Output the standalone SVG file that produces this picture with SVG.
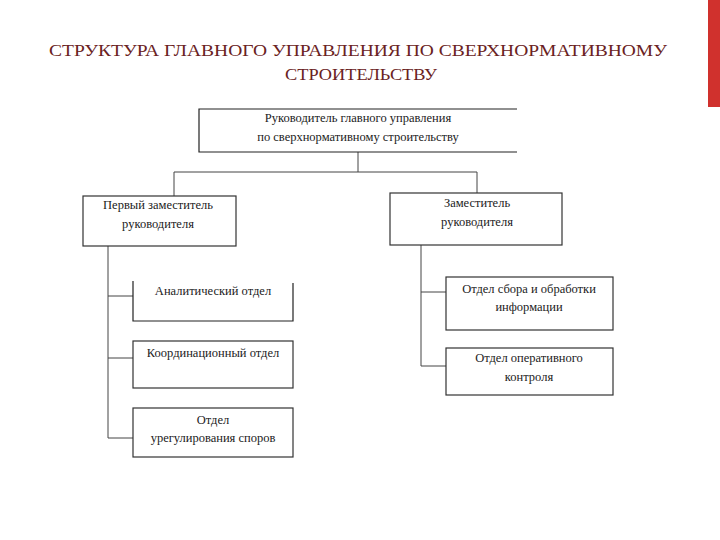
<svg xmlns="http://www.w3.org/2000/svg" width="720" height="540" viewBox="0 0 720 540">
<style>
.title{font-family:"Liberation Serif","Times New Roman",serif;font-size:17px;fill:#6a2222;text-anchor:middle}
.t{font-family:"Liberation Serif","DejaVu Serif",serif;font-size:12.5px;fill:#222;text-anchor:middle}
.box{fill:#fff;stroke:#333;stroke-width:1.2}
.edge{fill:none;stroke:#444;stroke-width:1}
.ln{fill:none;stroke:#222;stroke-width:1.2}
</style>
<rect x="0" y="0" width="720" height="540" fill="#fff"/>
<rect x="708" y="0" width="12" height="107" fill="#d0312d"/>
<text class="title" x="358" y="56" textLength="618" lengthAdjust="spacingAndGlyphs">СТРУКТУРА ГЛАВНОГО УПРАВЛЕНИЯ ПО СВЕРХНОРМАТИВНОМУ</text>
<text class="title" x="361" y="80" textLength="152" lengthAdjust="spacingAndGlyphs">СТРОИТЕЛЬСТВУ</text>

<g id="connectors">
<path class="edge" d="M358 152 V172 M174 172 H477 M174 172 V196 M477 172 V193"/>
<path class="edge" d="M108 246 V438 M108 296 H133 M108 358 H133 M108 438 H133"/>
<path class="edge" d="M421 245 V366 M421 292 H446 M421 366 H446"/>
</g>

<g id="head">
<rect x="199" y="109" width="318" height="43" fill="#fff"/>
<path class="ln" d="M517 109 H199 V152 H517"/>
<text class="t" x="358" y="122">Руководитель главного управления</text>
<text class="t" x="358" y="141">по сверхнормативному строительству</text>
</g>

<g id="deputy1">
<rect class="box" x="83" y="196" width="153" height="50"/>
<text class="t" x="158" y="209">Первый заместитель</text>
<text class="t" x="158" y="228">руководителя</text>
</g>

<g id="deputy2">
<rect class="box" x="390" y="193" width="172" height="52"/>
<text class="t" x="477" y="207">Заместитель</text>
<text class="t" x="477" y="226">руководителя</text>
</g>

<g id="analytic">
<path class="ln" d="M133 281 V321 H293 V283"/>
<text class="t" x="213" y="295">Аналитический отдел</text>
</g>

<g id="coord">
<rect class="box" x="133" y="341" width="160" height="47"/>
<text class="t" x="213" y="357">Координационный отдел</text>
</g>

<g id="dispute">
<rect class="box" x="133" y="408" width="160" height="49"/>
<text class="t" x="213" y="424">Отдел</text>
<text class="t" x="213" y="442">урегулирования споров</text>
</g>

<g id="info">
<rect class="box" x="446" y="277" width="167" height="53"/>
<text class="t" x="529" y="293">Отдел сбора и обработки</text>
<text class="t" x="529" y="311">информации</text>
</g>

<g id="oper">
<rect class="box" x="446" y="348" width="167" height="47"/>
<text class="t" x="529" y="362">Отдел оперативного</text>
<text class="t" x="529" y="381">контроля</text>
</g>
</svg>
